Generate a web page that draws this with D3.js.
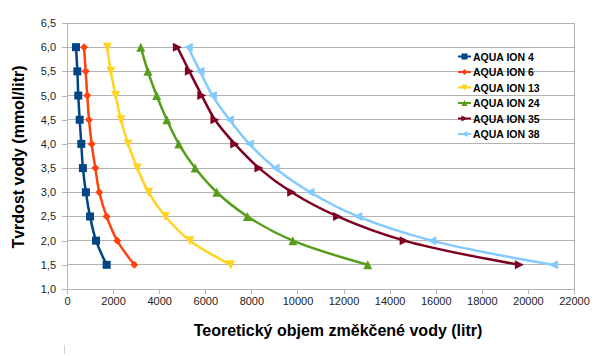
<!DOCTYPE html>
<html><head><meta charset="utf-8">
<script src="https://cdn.jsdelivr.net/npm/d3@7"></script>
<style>body{margin:0;background:#fff}svg{display:block;font-family:"Liberation Sans",Arial,sans-serif}</style>
</head><body><svg id="c" width="601" height="356"></svg>
<script>
const hardness = [6.0, 5.5, 5.0, 4.5, 4.0, 3.5, 3.0, 2.5, 2.0, 1.5];
const seriesNames = ["AQUA ION 4", "AQUA ION 6", "AQUA ION 13", "AQUA ION 24", "AQUA ION 35", "AQUA ION 38"];
const ion4  = [390, 450, 490, 550, 620, 690, 820, 1000, 1260, 1720];
const ion6  = [740, 810, 880, 955, 1070, 1230, 1400, 1720, 2180, 2920];
const ion13 = [1750, 1900, 2110, 2340, 2650, 3050, 3540, 4270, 5340, 7100];
const ion24 = [3200, 3510, 3890, 4330, 4850, 5560, 6500, 7830, 9800, 13050];
const ion35 = [4790, 5310, 5850, 6420, 7280, 8330, 9750, 11740, 14630, 19630];
const ion38 = [5260, 5770, 6310, 7050, 7910, 9030, 10550, 12620, 15830, 21110];
const xTicks = [0, 2000, 4000, 6000, 8000, 10000, 12000, 14000, 16000, 18000, 20000, 22000];
const yTicks = [1.0, 1.5, 2.0, 2.5, 3.0, 3.5, 4.0, 4.5, 5.0, 5.5, 6.0, 6.5];
const colors = ["#004586", "#ff420e", "#ffd320", "#579d1c", "#7e0021", "#83caff"];
const markers = ["square", "diamond", "tdown", "tup", "tright", "tleft"];
const allSeries = [ion4, ion6, ion13, ion24, ion35, ion38];

const svg = d3.select("#c");
const x = d3.scaleLinear().domain([0, 22000]).range([67, 574]);
const y = d3.scaleLinear().domain([1, 6.5]).range([289, 23]);
const fmt = v => d3.format(".1f")(v).replace(".", ",");
const tickFont = '"Liberation Sans Narrow","Liberation Sans",Arial,sans-serif';

// gridlines
svg.append("g").selectAll("line").data(yTicks).join("line")
  .attr("x1", x(0)).attr("x2", x(22000)).attr("y1", d => y(d)).attr("y2", d => y(d))
  .attr("stroke", "#b3b3b3").attr("stroke-width", 1).attr("shape-rendering", "crispEdges");
// right border
svg.append("line").attr("x1", x(22000)).attr("x2", x(22000)).attr("y1", y(6.5)).attr("y2", y(1))
  .attr("stroke", "#b3b3b3").attr("shape-rendering", "crispEdges");

// axes
const yAxis = svg.append("g").attr("transform", `translate(${x(0)},0)`)
  .call(d3.axisLeft(y).tickValues(yTicks).tickFormat(fmt).tickSize(5).tickSizeOuter(0));
const xAxis = svg.append("g").attr("transform", `translate(0,${y(1)})`)
  .call(d3.axisBottom(x).tickValues(xTicks).tickFormat(d => d).tickSize(5).tickSizeOuter(0));
[yAxis, xAxis].forEach(a => {
  a.select(".domain").attr("stroke", "#b3b3b3").attr("shape-rendering", "crispEdges");
  a.selectAll(".tick line").attr("stroke", "#b3b3b3").attr("shape-rendering", "crispEdges");
  a.selectAll("text").attr("fill", "#222").style("font-size", "11px").style("font-family", tickFont);
});
yAxis.selectAll("text").attr("x", -11);
xAxis.selectAll("text").attr("y", 8);

// titles
svg.append("text").attr("transform", "translate(24,157) rotate(-90)").attr("text-anchor", "middle")
  .style("font-size", "16px").style("font-weight", "bold").text("Tvrdost vody (mmol/litr)");
svg.append("text").attr("x", 338).attr("y", 336).attr("text-anchor", "middle")
  .style("font-size", "16px").style("font-weight", "bold").text("Teoretický objem změkčené vody (litr)");
svg.append("line").attr("x1", 64.5).attr("x2", 64.5).attr("y1", 345).attr("y2", 354).attr("stroke", "#d0d0d0");

function markerPath(type, s) {
  const h = s / 2;
  switch (type) {
    case "square": return `M${-h},${-h}h${s}v${s}h${-s}Z`;
    case "diamond": return `M0,${-h}L${h},0L0,${h}L${-h},0Z`;
    case "tdown": return `M${-h},${-h}L${h},${-h}L0,${h}Z`;
    case "tup": return `M${-h},${h}L${h},${h}L0,${-h}Z`;
    case "tright": return `M${-h},${-h}L${h},0L${-h},${h}Z`;
    case "tleft": return `M${h},${-h}L${-h},0L${h},${h}Z`;
  }
}
const sizes = {square: 8, diamond: 8, tdown: 9, tup: 9, tright: 9, tleft: 9};

const line = d3.line().x(d => x(d[0])).y(d => y(d[1])).curve(d3.curveCatmullRom.alpha(0.5));
allSeries.forEach((vals, i) => {
  const pts = vals.map((v, j) => [v, hardness[j]]);
  const g = svg.append("g");
  g.append("path").attr("d", line(pts)).attr("fill", "none").attr("stroke", colors[i]).attr("stroke-width", 2.5);
  g.selectAll("path.m").data(pts).join("path").attr("class", "m")
    .attr("transform", d => `translate(${x(d[0])},${y(d[1])})`)
    .attr("d", markerPath(markers[i], sizes[markers[i]])).attr("fill", colors[i]);
});

// legend
const lg = svg.append("g");
seriesNames.forEach((n, i) => {
  const yy = 56.5 + i * 15.5;
  lg.append("line").attr("x1", 458).attr("x2", 471).attr("y1", yy).attr("y2", yy).attr("stroke", colors[i]).attr("stroke-width", 2);
  lg.append("path").attr("transform", `translate(464.5,${yy})`).attr("d", markerPath(markers[i], 6)).attr("fill", colors[i]);
  lg.append("text").attr("x", 473).attr("y", yy + 4).style("font-size", "10.5px").style("font-weight", "bold").text(n);
});
</script></body></html>
